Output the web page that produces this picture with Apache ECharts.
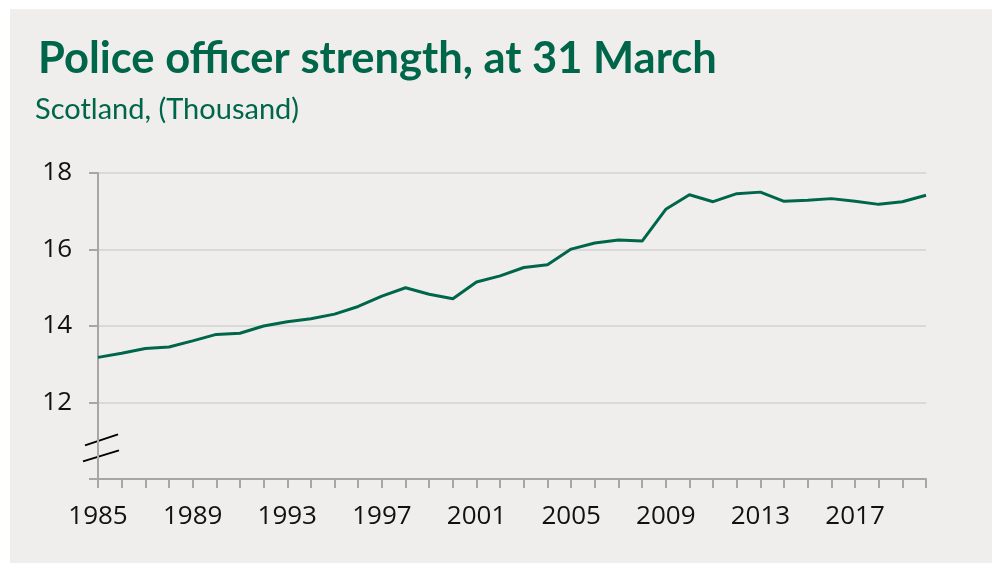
<!DOCTYPE html>
<html>
<head>
<meta charset="utf-8">
<script src="https://cdn.jsdelivr.net/npm/echarts@6/dist/echarts.min.js"></script>
<style>
  html, body { margin: 0; padding: 0; background: #ffffff; }
  #chart { position: absolute; left: 10px; top: 9px; width: 982px; height: 554px; background: #EFEEED; }
</style>
</head>
<body>
<div id="chart"></div>
<script>
// ---- data (thousand officers, at 31 March) ----
const years = [
  "1985","1986","1987","1988","1989","1990","1991","1992","1993","1994",
  "1995","1996","1997","1998","1999","2000","2001","2002","2003","2004",
  "2005","2006","2007","2008","2009","2010","2011","2012","2013","2014",
  "2015","2016","2017","2018","2019","2020"
];
const officers = [
  13.18, 13.29, 13.41, 13.45, 13.61, 13.78, 13.81, 14.00, 14.11, 14.19,
  14.31, 14.51, 14.78, 15.00, 14.83, 14.71, 15.15, 15.31, 15.53, 15.60,
  16.01, 16.17, 16.25, 16.22, 17.05, 17.43, 17.25, 17.46, 17.50, 17.26,
  17.29, 17.33, 17.26, 17.18, 17.25, 17.42
];
const yTicks = { min: 10, max: 18, step: 2 };

const GREEN = "#00664A";
const BG = "#EFEEED";
const AXIS = "#A6A6A6";

const chart = echarts.init(document.getElementById("chart"), null, { renderer: "canvas" });

chart.setOption({
  backgroundColor: BG,
  animation: false,
  title: [
    { text: "Police officer strength, at 31 March", left: 28, top: 28, padding: 0,
      textStyle: { fontFamily: "Lato", fontWeight: "bold", fontSize: 43.5, color: GREEN } },
    { text: "Scotland, (Thousand)", left: 25, top: 86, padding: 0,
      textStyle: { fontFamily: "Lato", fontWeight: "normal", fontSize: 29, color: GREEN } },
  ],
  grid: { left: 88, right: 66, top: 164, bottom: 84, containLabel: false },
  xAxis: {
    type: "category", data: years, boundaryGap: false,
    axisLine: { lineStyle: { color: AXIS, width: 2 } },
    axisTick: { show: true, interval: 0, length: 9, lineStyle: { color: AXIS, width: 2 } },
    axisLabel: { interval: 3, margin: 25, fontFamily: "Open Sans", fontSize: 26, color: "#111" },
    splitLine: { show: false },
  },
  yAxis: {
    type: "value", min: yTicks.min, max: yTicks.max, interval: yTicks.step,
    axisLine: { show: true, lineStyle: { color: AXIS, width: 2 } },
    axisTick: { show: true, length: 9, lineStyle: { color: AXIS, width: 2 } },
    axisLabel: { margin: 26, fontFamily: "Open Sans", fontSize: 26, color: "#111",
      formatter: v => (v === yTicks.min ? "" : String(v)) },
    splitLine: { lineStyle: { color: "#D9D9D9", width: 2 } },
  },
  series: [{
    type: "line", data: officers, showSymbol: false, smooth: false,
    lineStyle: { color: GREEN, width: 3 }, itemStyle: { color: GREEN },
  }],
});

// axis break marks on the y axis, placed between the hidden 10 and 12
const [bx, by] = chart.convertToPixel({ gridIndex: 0 }, [0, 10.8]);
chart.setOption({
  graphic: [
    { type: "polygon", shape: { points: [[bx - 13, by - 3], [bx + 20, by - 14], [bx + 21, by + 2], [bx - 15, by + 13]] },
      style: { fill: BG } },
    { type: "line", shape: { x1: bx - 13, y1: by - 3, x2: bx + 20, y2: by - 14 }, style: { stroke: "#000", lineWidth: 2 } },
    { type: "line", shape: { x1: bx - 15, y1: by + 13, x2: bx + 21, y2: by + 2 }, style: { stroke: "#000", lineWidth: 2 } },
  ],
});
</script>
</body>
</html>
